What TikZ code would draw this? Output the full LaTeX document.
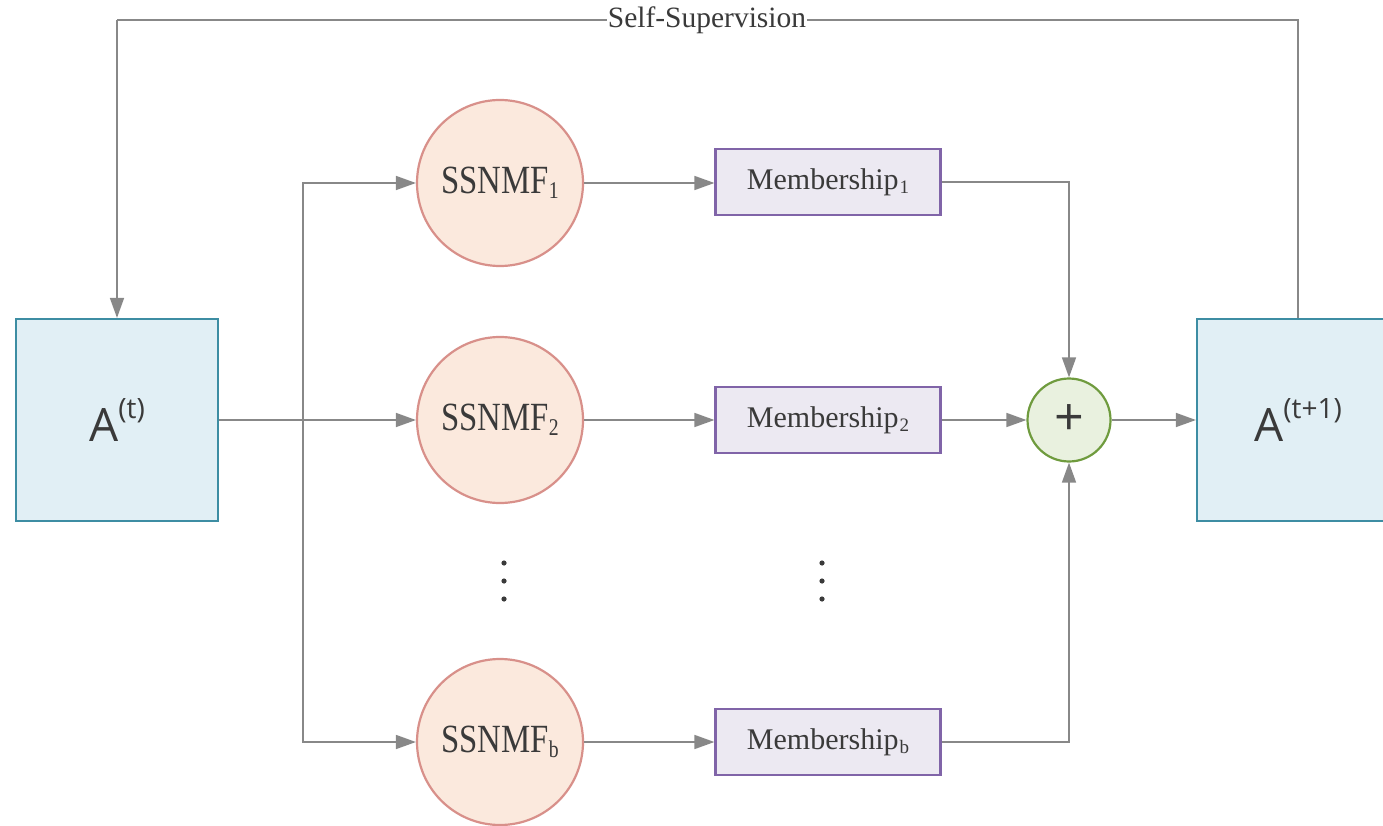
\documentclass[tikz,border=0pt]{standalone}
\usepackage{fontspec}
\setmainfont{Liberation Serif}
\newfontfamily\condserif[FakeStretch=0.82]{Liberation Serif}
\newfontfamily\matfont{Open Sans}
\usetikzlibrary{arrows.meta}
\definecolor{linegray}{HTML}{888888}
\definecolor{txt}{HTML}{3A3A3A}
\definecolor{matfill}{HTML}{E1EFF5}
\definecolor{matdraw}{HTML}{3D8DA3}
\definecolor{nmffill}{HTML}{FBE9DD}
\definecolor{nmfdraw}{HTML}{D8908A}
\definecolor{memfill}{HTML}{ECE9F2}
\definecolor{memdraw}{HTML}{8064A8}
\definecolor{sumfill}{HTML}{E9F1DF}
\definecolor{sumdraw}{HTML}{6F9B3E}
% superscript for the matrix labels, subscripts for the run labels
\newcommand{\matsup}[1]{\raisebox{23pt}{\fontsize{28}{30}\selectfont(#1)}}
\newcommand{\nmfsub}[1]{\raisebox{-5pt}{\fontsize{24}{26}\selectfont#1}}
\newcommand{\memsub}[1]{\kern1pt\raisebox{-4pt}{\fontsize{19}{21}\selectfont#1}}
\tikzset{
  matbox/.style={draw=matdraw, fill=matfill, line width=2.2pt, minimum width=202pt, minimum height=202pt, inner sep=0pt, text=txt, font=\matfont\fontsize{46}{50}\selectfont},
  nmfnode/.style={circle, draw=nmfdraw, fill=nmffill, line width=2.2pt, minimum size=166pt, inner sep=0pt, text=txt, font=\condserif\fontsize{40}{44}\selectfont},
  membox/.style={draw=memdraw, fill=memfill, line width=2.2pt, minimum width=225pt, minimum height=66pt, inner sep=0pt, text=txt, font=\fontsize{30}{33}\selectfont},
  sumnode/.style={circle, draw=sumdraw, fill=sumfill, line width=2.2pt, minimum size=83pt, inner sep=0pt, text=txt, font=\matfont\fontsize{52}{54}\selectfont},
  conn/.style={draw=linegray, line width=1.6pt, -{Triangle[length=20pt,width=14pt]}},
  plain/.style={draw=linegray, line width=1.6pt},
  lbl/.style={fill=white, text=txt, inner sep=1pt, font=\fontsize{29.5}{32}\selectfont},
  vdot/.style={fill=txt}
}
\begin{document}
\begin{tikzpicture}[x=1pt, y=-1pt]
\useasboundingbox (0,0) rectangle (1383,826);

% matrices
\node[matbox] (At)  at (117,420)  {A\matsup{t}};
\node[matbox] (At1) at (1298,420) {A\matsup{t+1}};

% SSNMF runs
\node[nmfnode] (n1) at (500,183) {SSNMF\nmfsub{1}};
\node[nmfnode] (n2) at (500,420) {SSNMF\nmfsub{2}};
\node[nmfnode] (nb) at (500,742) {SSNMF\nmfsub{b}};

% memberships
\node[membox] (m1) at (828,182) {Membership\memsub{1}};
\node[membox] (m2) at (828,420) {Membership\memsub{2}};
\node[membox] (mb) at (828,742) {Membership\memsub{b}};

% aggregation
\node[sumnode] (sum) at (1069,420) {\raisebox{-2pt}{+}};

% vertical ellipses
\coordinate (d1) at (504,581);
\coordinate (d2) at (822,581);
\foreach \c in {d1,d2}{
  \fill[vdot] ([yshift=-18pt]\c) circle (2.6pt);
  \fill[vdot] (\c) circle (2.6pt);
  \fill[vdot] ([yshift=18pt]\c) circle (2.6pt);
}

% fan-out
\coordinate (split) at (303,420);
\draw[conn] (At.east) -- (n2.west);
\draw[conn] (split) |- (n1.west);
\draw[conn] (split) |- (nb.west);

% SSNMF to membership
\draw[conn] (n1.east) -- (n1.east -| m1.west);
\draw[conn] (n2.east) -- (m2.west);
\draw[conn] (nb.east) -- (mb.west);

% membership to sum
\draw[conn] (m1.east) -| (sum.north);
\draw[conn] (m2.east) -- (sum.west);
\draw[conn] (mb.east) -| (sum.south);

% sum to next matrix
\draw[conn] (sum.east) -- (At1.west);

% self-supervision loop
\coordinate (topR) at (1298,20);
\coordinate (topL) at (117,20);
\draw[plain] (At1.north) -- (topR) -- (topL);
\draw[conn] (topL) -- (At.north);
\node[lbl] (ss) at (707,20) {Self-Supervision};
\end{tikzpicture}
\end{document}
